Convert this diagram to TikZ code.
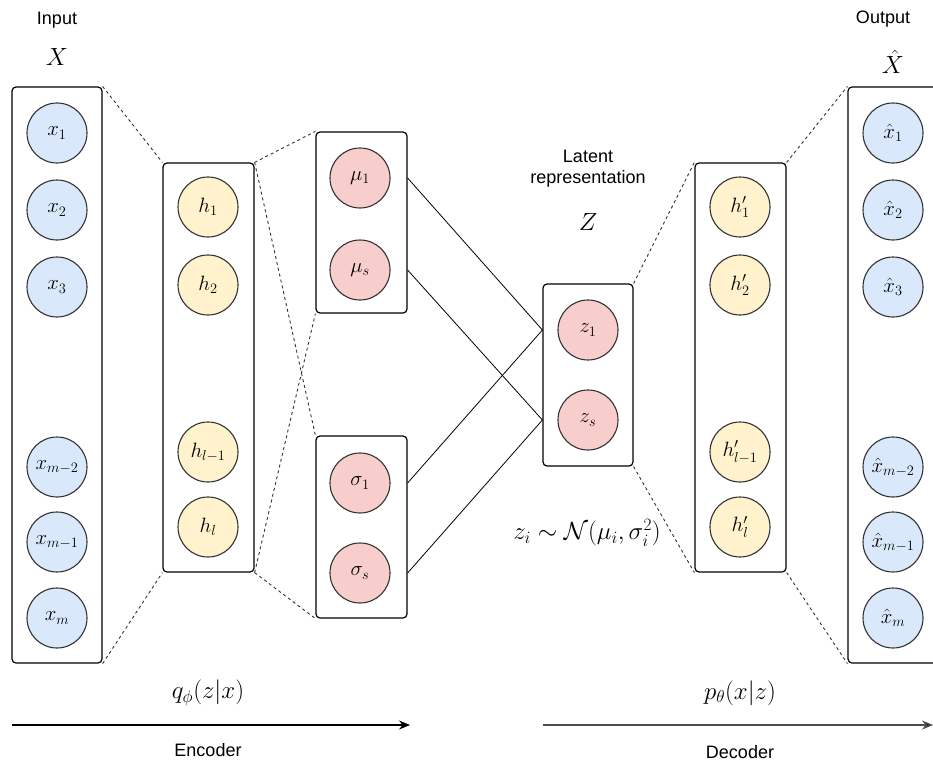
\documentclass[tikz,border=0pt]{standalone}
\usepackage{amsmath}
\usepackage{fontspec}
\setmainfont{Liberation Sans}
\usepackage{tikz}
\usetikzlibrary{arrows.meta, positioning}

\definecolor{inblue}{HTML}{DAE8FC}
\definecolor{hidyellow}{HTML}{FFF2CC}
\definecolor{latred}{HTML}{F8CECC}
\definecolor{ringgray}{HTML}{333333}

\begin{document}
\begin{tikzpicture}[x=1pt, y=-1pt,
    layer/.style={draw, line width=1.2pt, rounded corners=4pt, inner sep=0pt},
    unit/.style={circle, draw=ringgray, line width=1.1pt, minimum size=60pt, inner sep=0pt, font=\fontsize{22}{24}\selectfont},
    xunit/.style={unit, fill=inblue},
    hunit/.style={unit, fill=hidyellow},
    zunit/.style={unit, fill=latred},
    link/.style={dash pattern=on 3pt off 3pt, line width=0.9pt, draw=ringgray},
    txt/.style={font=\fontsize{18}{21}\selectfont, inner sep=1pt},
    mth/.style={font=\fontsize{24}{26}\selectfont, inner sep=1pt}]
        \useasboundingbox (0,0) rectangle (933,765);

        % layer frames
        \node[layer, minimum width=90pt, minimum height=576pt] (inbox) at (57,375) {};
        \node[layer, minimum width=91pt, minimum height=409pt] (hbox) at (208.5,367.5) {};
        \node[layer, minimum width=91pt, minimum height=181pt] (mubox) at (361.5,222.5) {};
        \node[layer, minimum width=91pt, minimum height=182pt] (sigbox) at (361.5,527) {};
        \node[layer, minimum width=90pt, minimum height=182pt] (zbox) at (588,375) {};
        \node[layer, minimum width=91pt, minimum height=409pt] (hdbox) at (740.5,367.5) {};
        \node[layer, minimum width=90pt, minimum height=576pt] (outbox) at (893,375) {};

        % input
        \node[txt] (inlab) at (57,20) {Input};
        \node[mth] (X) at (57,57) {$X$};
        \node[xunit] (x1) at (57,133) {$x_1$};
        \node[xunit] (x2) at (57,210) {$x_2$};
        \node[xunit] (x3) at (57,287) {$x_3$};
        \node[xunit] (xm2) at (57,467) {$x_{m-2}$};
        \node[xunit] (xm1) at (57,542) {$x_{m-1}$};
        \node[xunit] (xm) at (57,618) {$x_m$};

        % encoder hidden
        \node[hunit] (h1) at (208,207) {$h_1$};
        \node[hunit] (h2) at (208,285) {$h_2$};
        \node[hunit] (hl1) at (208,452) {$h_{l-1}$};
        \node[hunit] (hl) at (208,527) {$h_l$};

        % mean and std
        \node[zunit] (mu1) at (360,178) {$\mu_1$};
        \node[zunit] (mus) at (360,270) {$\mu_s$};
        \node[zunit] (sig1) at (360,483) {$\sigma_1$};
        \node[zunit] (sigs) at (360,573) {$\sigma_s$};

        % latent
        \node[txt, align=center] (latlab) at (588,169) {Latent\\representation};
        \node[mth] (Z) at (588,222) {$Z$};
        \node[zunit] (z1) at (588,330) {$z_1$};
        \node[zunit] (zs) at (588,420) {$z_s$};
        \node[mth] (samp) at (587,533) {$z_i \sim \mathcal{N}(\mu_i, \sigma_i^2)$};

        % decoder hidden
        \node[hunit] (hd1) at (740,207) {$h'_1$};
        \node[hunit] (hd2) at (740,285) {$h'_2$};
        \node[hunit] (hdl1) at (740,452) {$h'_{l-1}$};
        \node[hunit] (hdl) at (740,527) {$h'_l$};

        % output
        \node[txt] (outlab) at (883,19) {Output};
        \node[mth] (Xh) at (893,62) {$\hat{X}$};
        \node[xunit] (xh1) at (893,133) {$\hat{x}_1$};
        \node[xunit] (xh2) at (893,210) {$\hat{x}_2$};
        \node[xunit] (xh3) at (893,287) {$\hat{x}_3$};
        \node[xunit] (xhm2) at (893,467) {$\hat{x}_{m-2}$};
        \node[xunit] (xhm1) at (893,542) {$\hat{x}_{m-1}$};
        \node[xunit] (xhm) at (893,618) {$\hat{x}_m$};

        % dashed fans between layers
        \draw[link] (inbox.north east) -- (hbox.north west);
        \draw[link] (inbox.south east) -- (hbox.south west);
        \draw[link] (hbox.north east) -- (mubox.north west);
        \draw[link] (hbox.north east) -- (sigbox.north west);
        \draw[link] (hbox.south east) -- (mubox.south west);
        \draw[link] (hbox.south east) -- (sigbox.south west);
        \draw[link] (zbox.north east) -- (hdbox.north west);
        \draw[link] (zbox.south east) -- (hdbox.south west);
        \draw[link] (hdbox.north east) -- (outbox.north west);
        \draw[link] (hdbox.south east) -- (outbox.south west);

        % sampling links
        \draw[line width=0.8pt] (mu1 -| mubox.east) -- (z1 -| zbox.west);
        \draw[line width=0.8pt] (mus -| mubox.east) -- (zs -| zbox.west);
        \draw[line width=0.8pt] (sig1 -| sigbox.east) -- (z1 -| zbox.west);
        \draw[line width=0.8pt] (sigs -| sigbox.east) -- (zs -| zbox.west);

        % encoder / decoder arrows
        \node[mth] (qlab) at (208,693) {$q_\phi(z|x)$};
        \node[mth] (plab) at (740,693) {$p_\theta(x|z)$};
        \coordinate (encL) at (12,725);
        \coordinate (encR) at (410,725);
        \coordinate (decL) at (543,725);
        \coordinate (decR) at (933,725);
        \draw[line width=1.2pt, -{Stealth[length=11pt, width=9pt]}] (encL) -- (encR);
        \draw[line width=1.4pt, draw=black!70, -{Stealth[length=11pt, width=9pt, fill=black]}] (decL) -- (decR);
        \node[txt] (enclab) at (208,750) {Encoder};
        \node[txt] (declab) at (740,752) {Decoder};
  \end{tikzpicture}
\end{document}
